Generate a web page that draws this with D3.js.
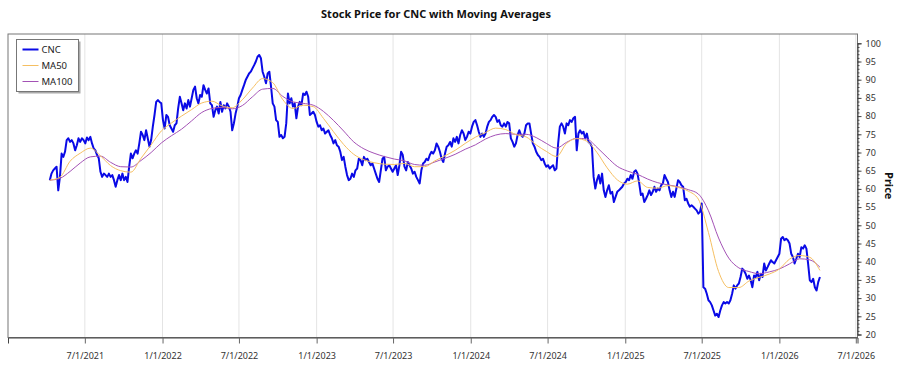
<!DOCTYPE html>
<html><head><meta charset="utf-8">
<script src="https://cdn.jsdelivr.net/npm/d3@7"></script>
<style>
body{margin:0;background:#fff;}
svg{display:block;font-family:"Noto Sans","Open Sans",sans-serif;}
</style>
</head><body>
<svg id="chart" width="900" height="375"></svg>
<script>
const chartTitle = "Stock Price for CNC with Moving Averages";
const seriesNames = ["CNC", "MA50", "MA100"];
const yAxisTitle = "Price";

// closing price sampled every 4 calendar days from the start date
const priceStart = "2021-04-09";
const priceStepDays = 4;
const cncPrice = [
62.4,64.2,65.1,65.6,66.1,59.6,63.3,69.7,68.8,70.2,73.4,73.9,72.9,73.4,72.5,70.6,72.0,73.9,72.9,73.9,73.4,72.5,74.1,73.4,74.3,
72.5,71.1,70.6,69.3,68.4,64.7,63.3,64.2,63.8,63.3,64.2,63.3,63.8,62.4,60.6,62.4,63.8,62.4,64.2,62.4,63.3,61.9,66.1,69.7,68.4,
69.7,70.6,69.7,72.5,75.7,74.8,73.4,76.1,73.9,71.6,73.4,77.1,80.3,83.9,84.4,83.9,83.5,78.9,76.6,80.3,79.8,77.5,76.6,75.7,77.5,78.0,
82.1,85.3,83.5,81.6,83.5,82.1,84.4,82.6,84.9,87.2,88.1,84.9,83.5,85.8,85.3,88.5,87.2,86.2,87.6,83.5,83.0,79.8,81.6,82.6,80.7,
83.9,81.2,83.0,82.1,83.5,82.6,81.2,76.1,78.0,80.7,82.6,84.9,85.8,87.2,88.5,89.9,90.8,91.7,92.2,93.1,94.0,95.0,96.3,96.8,95.9,92.2,90.8,
89.0,91.7,92.2,88.1,83.5,82.6,78.9,78.4,74.3,74.8,73.9,74.3,78.0,86.2,83.5,84.9,82.6,83.5,79.4,82.6,83.9,83.0,86.2,85.8,86.7,85.3,80.3,
80.7,81.2,80.3,78.4,77.1,77.5,76.1,76.6,75.2,75.7,76.1,74.8,73.9,72.5,73.4,72.0,71.6,70.2,67.9,68.8,66.1,63.8,62.4,
62.8,64.2,63.3,65.1,65.6,68.3,67.9,66.5,68.8,67.9,68.3,67.4,66.5,67.0,65.6,64.2,62.8,61.9,65.1,68.3,68.8,65.1,66.1,66.5,65.6,64.7,
65.6,66.5,63.8,66.5,70.2,69.3,66.1,65.1,67.4,66.5,65.6,64.2,64.7,63.3,62.4,61.5,65.1,67.0,67.4,68.3,67.9,69.3,70.2,69.7,70.6,72.5,
71.6,70.2,68.3,67.4,69.7,71.6,72.0,72.9,71.6,73.9,72.9,74.3,72.5,74.8,76.1,75.2,73.4,74.3,75.7,75.2,77.1,78.4,78.9,77.5,75.7,74.3,
75.2,74.3,75.2,77.1,78.4,78.9,79.8,80.3,79.8,78.4,78.9,77.5,77.1,78.0,77.1,78.4,78.0,73.9,72.9,71.6,72.5,74.8,76.1,74.8,
74.3,75.2,77.5,78.0,78.0,75.2,72.5,71.6,70.2,69.3,68.8,67.9,68.3,67.0,66.1,66.5,65.6,66.1,66.5,65.1,65.6,72.5,77.1,78.0,77.1,75.2,
78.0,77.5,78.9,78.4,79.4,79.8,70.6,75.2,76.1,
75.2,75.7,73.9,75.2,72.9,72.5,71.6,63.3,60.1,62.4,63.8,61.5,64.2,59.6,57.8,59.6,61.0,
58.7,59.2,56.4,57.8,59.2,59.6,60.1,60.6,61.5,61.9,62.8,62.4,63.8,62.8,64.7,65.1,64.2,61.5,58.3,58.7,56.4,57.3,58.3,59.6,58.3,59.2,
60.6,59.2,60.1,59.6,61.0,61.5,63.8,62.8,61.9,59.6,57.8,59.2,57.8,60.1,62.4,61.9,61.0,60.6,56.9,57.3,56.0,55.1,55.5,55.1,54.6,
54.1,53.2,53.7,56.0,33.0,32.6,31.2,29.4,28.9,28.0,26.6,25.2,25.7,24.8,26.6,28.0,28.9,28.5,28.9,28.5,29.4,31.2,33.5,32.6,33.5,34.0,
35.8,38.1,37.6,36.7,35.3,36.2,34.9,33.0,36.2,35.8,37.2,34.9,36.7,35.8,39.5,37.6,38.5,39.5,40.4,39.9,39.5,40.4,41.3,42.2,
46.3,46.8,45.9,46.3,45.9,45.0,42.2,41.3,39.5,40.8,42.2,41.3,44.0,43.6,44.5,43.6,39.5,34.9,34.4,35.3,33.0,32.1,34.4,35.8
];

// moving averages read on every 6th price date
const maEvery = 6;
const ma50 = [
62.4,63.2,67.6,69.8,71.2,69.1,66.4,65.0,64.6,68.4,72.1,75.9,78.1,80.0,81.8,83.6,84.1,82.8,82.3,84.5,
87.7,90.3,89.2,84.5,82.1,83.0,82.6,79.4,75.7,72.2,69.5,68.0,67.2,66.8,66.7,67.0,66.1,66.1,67.7,69.1,
70.6,72.5,74.2,75.5,76.7,76.3,74.9,74.3,72.1,70.3,68.9,72.5,73.8,73.1,70.0,65.8,62.5,61.3,62.2,60.4,
60.2,60.9,60.4,59.4,57.2,48.0,37.3,32.9,32.9,34.7,35.7,36.6,38.0,40.7,41.7,41.2,37.6
];
const ma100 = [
62.4,62.9,64.8,67.1,68.8,69.0,67.3,66.1,66.0,67.8,70.0,72.6,74.6,76.4,78.7,81.0,82.1,82.4,82.0,82.9,
85.3,87.4,87.6,85.4,83.9,83.5,83.0,81.3,78.8,75.9,72.9,71.0,69.8,68.9,68.2,67.7,66.7,66.5,67.4,68.4,
69.5,70.9,72.1,73.7,74.8,75.2,75.0,75.0,74.1,72.5,71.2,72.8,73.9,73.7,71.4,68.7,66.2,64.9,64.0,62.7,
61.7,61.1,60.6,59.8,58.6,54.0,46.5,41.0,38.3,37.3,36.7,37.2,38.0,39.4,40.8,40.5,38.5
];

const xDomain = ["2020-12-31", "2026-07-05"];
const xTickDates = ["2021-07-01","2022-01-01","2022-07-01","2023-01-01","2023-07-01","2024-01-01",
                    "2024-07-01","2025-01-01","2025-07-01","2026-01-01","2026-07-01"];
const xTickLabels = ["7/1/2021","1/1/2022","7/1/2022","1/1/2023","7/1/2023","1/1/2024",
                     "7/1/2024","1/1/2025","7/1/2025","1/1/2026","7/1/2026"];
const yTicks = [20,25,30,35,40,45,50,55,60,65,70,75,80,85,90,95,100];
const yMinorTicks = d3.range(20, 101, 1);

const colors = {CNC: "#0a0ae6", MA50: "#f5bf62", MA100: "#a352b5"};

const parse = d3.utcParse("%Y-%m-%d");
const start = parse(priceStart);
const priceDates = cncPrice.map((_, i) => d3.utcDay.offset(start, i * priceStepDays));
const maDates = priceDates.filter((d, i) => i % maEvery === 0);

const plot = {left: 8, right: 857.5, top: 34, bottom: 337.5};
const x = d3.scaleUtc().domain(xDomain.map(parse)).range([plot.left, plot.right]);
const y = d3.scaleLinear().domain([20, 100]).range([334.5, 43.3]);

const svg = d3.select("#chart");

svg.append("text").attr("x", 436).attr("y", 18).attr("text-anchor", "middle")
  .attr("font-size", 11).attr("font-weight", "bold").attr("fill", "#111").text(chartTitle);

svg.append("defs").append("clipPath").attr("id", "clip").append("rect")
  .attr("x", plot.left).attr("y", plot.top).attr("width", plot.right - plot.left).attr("height", plot.bottom - plot.top);

// vertical gridlines
svg.append("g").selectAll("line").data(xTickDates).join("line")
  .attr("x1", d => x(parse(d))).attr("x2", d => x(parse(d)))
  .attr("y1", plot.top).attr("y2", plot.bottom)
  .attr("stroke", "#e4e4e4").attr("stroke-width", 1);

// frame
svg.append("rect").attr("x", plot.left).attr("y", plot.top)
  .attr("width", plot.right - plot.left).attr("height", plot.bottom - plot.top)
  .attr("fill", "none").attr("stroke", "#777").attr("stroke-width", 1);

// x axis
const xAxis = d3.axisBottom(x).tickValues(xTickDates.map(parse))
  .tickFormat((d, i) => xTickLabels[i]).tickSize(6).tickPadding(9);
const gx = svg.append("g").attr("transform", `translate(0,${plot.bottom})`).call(xAxis);
gx.select(".domain").attr("stroke", "#444");
gx.selectAll(".tick line").attr("stroke", "#666");
gx.selectAll("text").attr("font-size", 9).attr("fill", "#333").attr("font-family", "Noto Sans, sans-serif");

// y axis (right)
const gyMinor = svg.append("g").attr("transform", `translate(${plot.right},0)`)
  .call(d3.axisRight(y).tickValues(yMinorTicks).tickSize(2).tickFormat(""));
gyMinor.select(".domain").remove();
gyMinor.selectAll(".tick line").attr("stroke", "#444");
const gy = svg.append("g").attr("transform", `translate(${plot.right},0)`)
  .call(d3.axisRight(y).tickValues(yTicks).tickSize(4).tickPadding(4));
gy.select(".domain").attr("stroke", "#444");
gy.selectAll(".tick line").attr("stroke", "#444");
gy.selectAll("text").attr("font-size", 9).attr("fill", "#333").attr("font-family", "Noto Sans, sans-serif");

svg.append("text").attr("transform", `translate(885,${(plot.top + plot.bottom) / 2}) rotate(90)`)
  .attr("text-anchor", "middle").attr("font-size", 11).attr("font-weight", "bold").attr("fill", "#111")
  .text(yAxisTitle);

// lines
const gLines = svg.append("g").attr("clip-path", "url(#clip)");
const priceLine = d3.line().x((d, i) => x(priceDates[i])).y(d => y(d));
const maLine = d3.line().x((d, i) => x(maDates[i])).y(d => y(d)).curve(d3.curveMonotoneX);

gLines.append("path").datum(cncPrice).attr("d", priceLine).attr("fill", "none")
  .attr("stroke", colors.CNC).attr("stroke-width", 2).attr("stroke-linejoin", "round");
gLines.append("path").datum(ma100).attr("d", maLine).attr("fill", "none")
  .attr("stroke", colors.MA100).attr("stroke-width", 1);
gLines.append("path").datum(ma50).attr("d", maLine).attr("fill", "none")
  .attr("stroke", colors.MA50).attr("stroke-width", 1);

// legend
const lg = svg.append("g").attr("transform", "translate(16.5,39.5)");
lg.append("rect").attr("x", 2).attr("y", 2).attr("width", 62).attr("height", 52).attr("fill", "#aaa");
lg.append("rect").attr("width", 62).attr("height", 52).attr("fill", "#fff").attr("stroke", "#777");
seriesNames.forEach((name, i) => {
  const yy = 10 + i * 16;
  lg.append("line").attr("x1", 6).attr("x2", 22).attr("y1", yy).attr("y2", yy)
    .attr("stroke", colors[name]).attr("stroke-width", name === "CNC" ? 2 : 1);
  lg.append("text").attr("x", 25).attr("y", yy + 3.3).attr("font-size", 9.5).attr("fill", "#222").text(name);
});
</script>
</body></html>
